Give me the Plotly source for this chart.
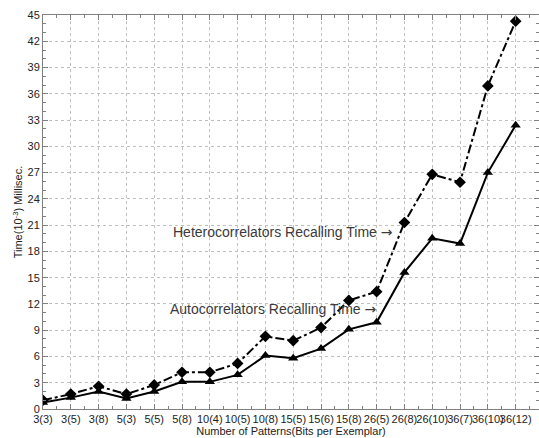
import plotly.graph_objects as go

categories = ["3(3)", "3(5)", "3(8)", "5(3)", "5(5)", "5(8)", "10(4)", "10(5)", "10(8)",
              "15(5)", "15(6)", "15(8)", "26(5)", "26(8)", "26(10)", "36(7)", "36(10)", "36(12)"]
hetero = [1.0, 1.7, 2.6, 1.7, 2.75, 4.2, 4.2, 5.2, 8.3, 7.8, 9.3, 12.4, 13.4, 21.3, 26.8, 25.9, 36.9, 44.3]
auto = [0.75, 1.3, 2.0, 1.2, 2.0, 3.1, 3.1, 3.9, 6.1, 5.8, 6.9, 9.1, 9.9, 15.6, 19.5, 18.9, 27.0, 32.4]
y_ticks = list(range(0, 46, 3))

idx = list(range(len(categories)))
FAM = "Liberation Sans, Arial, sans-serif"
font = dict(family=FAM, size=11, color="#222222")
ARROW = "<span style='font-family:DejaVu Sans'>→</span>"

fig = go.Figure()
fig.add_trace(go.Scatter(x=idx, y=hetero, mode="lines+markers",
                         line=dict(color="black", width=2, dash="dashdot"),
                         marker=dict(symbol="diamond", size=9, color="black"),
                         name="Hetero"))
fig.add_trace(go.Scatter(x=idx, y=auto, mode="lines+markers",
                         line=dict(color="black", width=2),
                         marker=dict(symbol="triangle-up", size=9, color="black"),
                         name="Auto"))

fig.add_annotation(x=12.66, y=20.25, text="Heterocorrelators Recalling Time " + ARROW,
                   showarrow=False, xanchor="right", yanchor="middle",
                   font=dict(family=FAM, size=14, color="#3a3a3a"))
fig.add_annotation(x=12.08, y=11.45, text="Autocorrelators Recalling Time " + ARROW,
                   showarrow=False, xanchor="right", yanchor="middle",
                   font=dict(family=FAM, size=14, color="#3a3a3a"))

fig.update_layout(
    width=539, height=438,
    margin=dict(l=43, r=0, t=15, b=29),
    paper_bgcolor="white", plot_bgcolor="white",
    showlegend=False,
    font=font,
)
fig.update_xaxes(
    range=[0, 17.84], tickmode="array", tickvals=idx, ticktext=categories,
    tickangle=0, automargin=False,
    showline=True, linecolor="#808080", linewidth=1, mirror="ticks",
    ticks="inside", ticklen=5, tickcolor="#808080",
    showgrid=True, gridcolor="#c0c0c0", griddash="dot", gridwidth=1,
    minor=dict(dtick=0.5, tick0=0, ticks="inside", ticklen=3, tickcolor="#808080", showgrid=False),
    zeroline=False, tickfont=font,
    title=dict(text="Number of Patterns(Bits per Exemplar)", font=font, standoff=0),
)
fig.update_yaxes(
    range=[0, 45], tickmode="array", tickvals=y_ticks, automargin=False,
    showline=True, linecolor="#808080", linewidth=1, mirror="ticks",
    ticks="inside", ticklen=5, tickcolor="#808080",
    showgrid=True, gridcolor="#c0c0c0", griddash="dot", gridwidth=1,
    minor=dict(dtick=1, tick0=0, ticks="inside", ticklen=3, tickcolor="#808080", showgrid=False),
    zeroline=False, tickfont=font,
    title=dict(text="Time(10<sup>-3</sup>) Millisec.", font=font, standoff=2),
)

fig.write_html("out.html")
